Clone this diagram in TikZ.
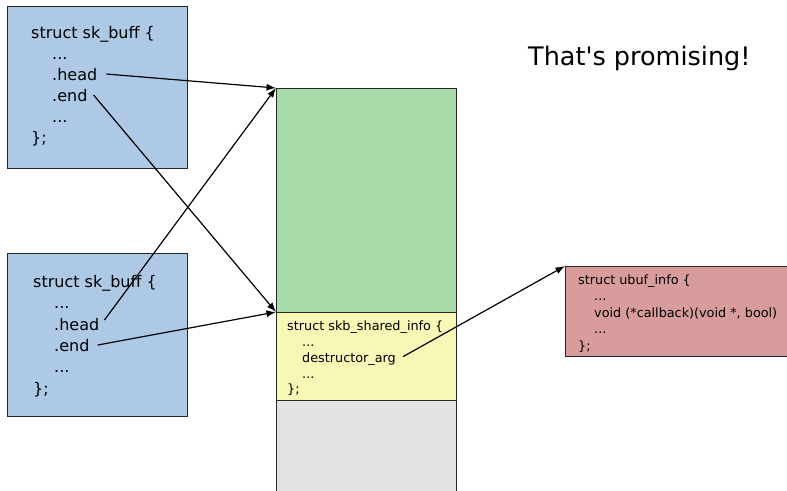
\documentclass[tikz,border=0pt]{standalone}
\usepackage{fontspec}
\setmainfont{DejaVu Sans}
\usetikzlibrary{arrows.meta}
\definecolor{skbblue}{RGB}{174,201,230}
\definecolor{datagreen}{RGB}{169,219,169}
\definecolor{shinfoyellow}{RGB}{247,247,182}
\definecolor{tailgray}{RGB}{227,227,227}
\definecolor{ubufred}{RGB}{216,156,156}

\begin{document}
\begin{tikzpicture}[x=1pt,y=-1pt,
  box/.style={draw=black!85,line width=1.4pt,anchor=north west,inner sep=0pt},
  big/.style={anchor=base west,inner sep=1pt,font=\fontsize{16}{19}\selectfont},
  small/.style={anchor=base west,inner sep=1pt,font=\fontsize{12.8}{15}\selectfont},
  ptr/.style={line width=1.2pt,-{Latex[length=9.5pt,width=7pt]}}]
\clip (0,0) rectangle (787,490);
% boxes
\node[box,fill=skbblue,minimum width=180,minimum height=162] (skbA) at (7,6) {};
\node[box,fill=skbblue,minimum width=180,minimum height=163] (skbB) at (7,253) {};
\node[box,fill=datagreen,minimum width=180,minimum height=224] (data) at (276,88) {};
\node[box,fill=shinfoyellow,minimum width=180,minimum height=88] (shinfo) at (276,312) {};
\node[box,fill=tailgray,minimum width=180,minimum height=110] (tail) at (276,400) {};
\node[box,fill=ubufred,minimum width=240,minimum height=90] (ubuf) at (565,266) {};
% first sk_buff
\node[big] (openA) at (30,38) {struct sk\_buff \{};
\node[big] (dotsA) at (51,59) {...};
\node[big] (headA) at (51,80) {.head};
\node[big] (endA) at (51,101) {.end};
\node[big] (moreA) at (51,122) {...};
\node[big] (closeA) at (30,143) {\};};
% second sk_buff
\node[big] (openB) at (32,287) {struct sk\_buff \{};
\node[big] (dotsB) at (53,308) {...};
\node[big] (headB) at (53,330) {.head};
\node[big] (endB) at (53,351) {.end};
\node[big] (moreB) at (53,372) {...};
\node[big] (closeB) at (32,394) {\};};
% shared info
\node[small] (openS) at (286,330) {struct skb\_shared\_info \{};
\node[small] (dotsS) at (301,346) {...};
\node[small] (destr) at (301,362) {destructor\_arg};
\node[small] (moreS) at (301,378) {...};
\node[small] (closeS) at (286,393) {\};};
% ubuf_info
\node[small] (openU) at (577,284) {struct ubuf\_info \{};
\node[small] (dotsU) at (593,300) {...};
\node[small] (cb) at (593,317) {void (*callback)(void *, bool)};
\node[small] (moreU) at (593,333) {...};
\node[small] (closeU) at (577,350) {\};};
\node[anchor=base west,inner sep=0pt,font=\fontsize{25.5}{30}\selectfont] (remark) at (528,65) {That\textquotesingle s promising!};
% pointers
\draw[ptr] ([xshift=8pt]headA.east) -- (data.north west);
\draw[ptr] ([xshift=5pt]endA.east) -- (shinfo.north west);
\draw[ptr] ([xshift=4pt,yshift=4pt]headB.east) -- (data.north west);
\draw[ptr] ([xshift=7pt]endB.east) -- (shinfo.north west);
\draw[ptr] ([xshift=6pt,yshift=2pt]destr.east) -- (ubuf.north west);
\end{tikzpicture}
\end{document}
